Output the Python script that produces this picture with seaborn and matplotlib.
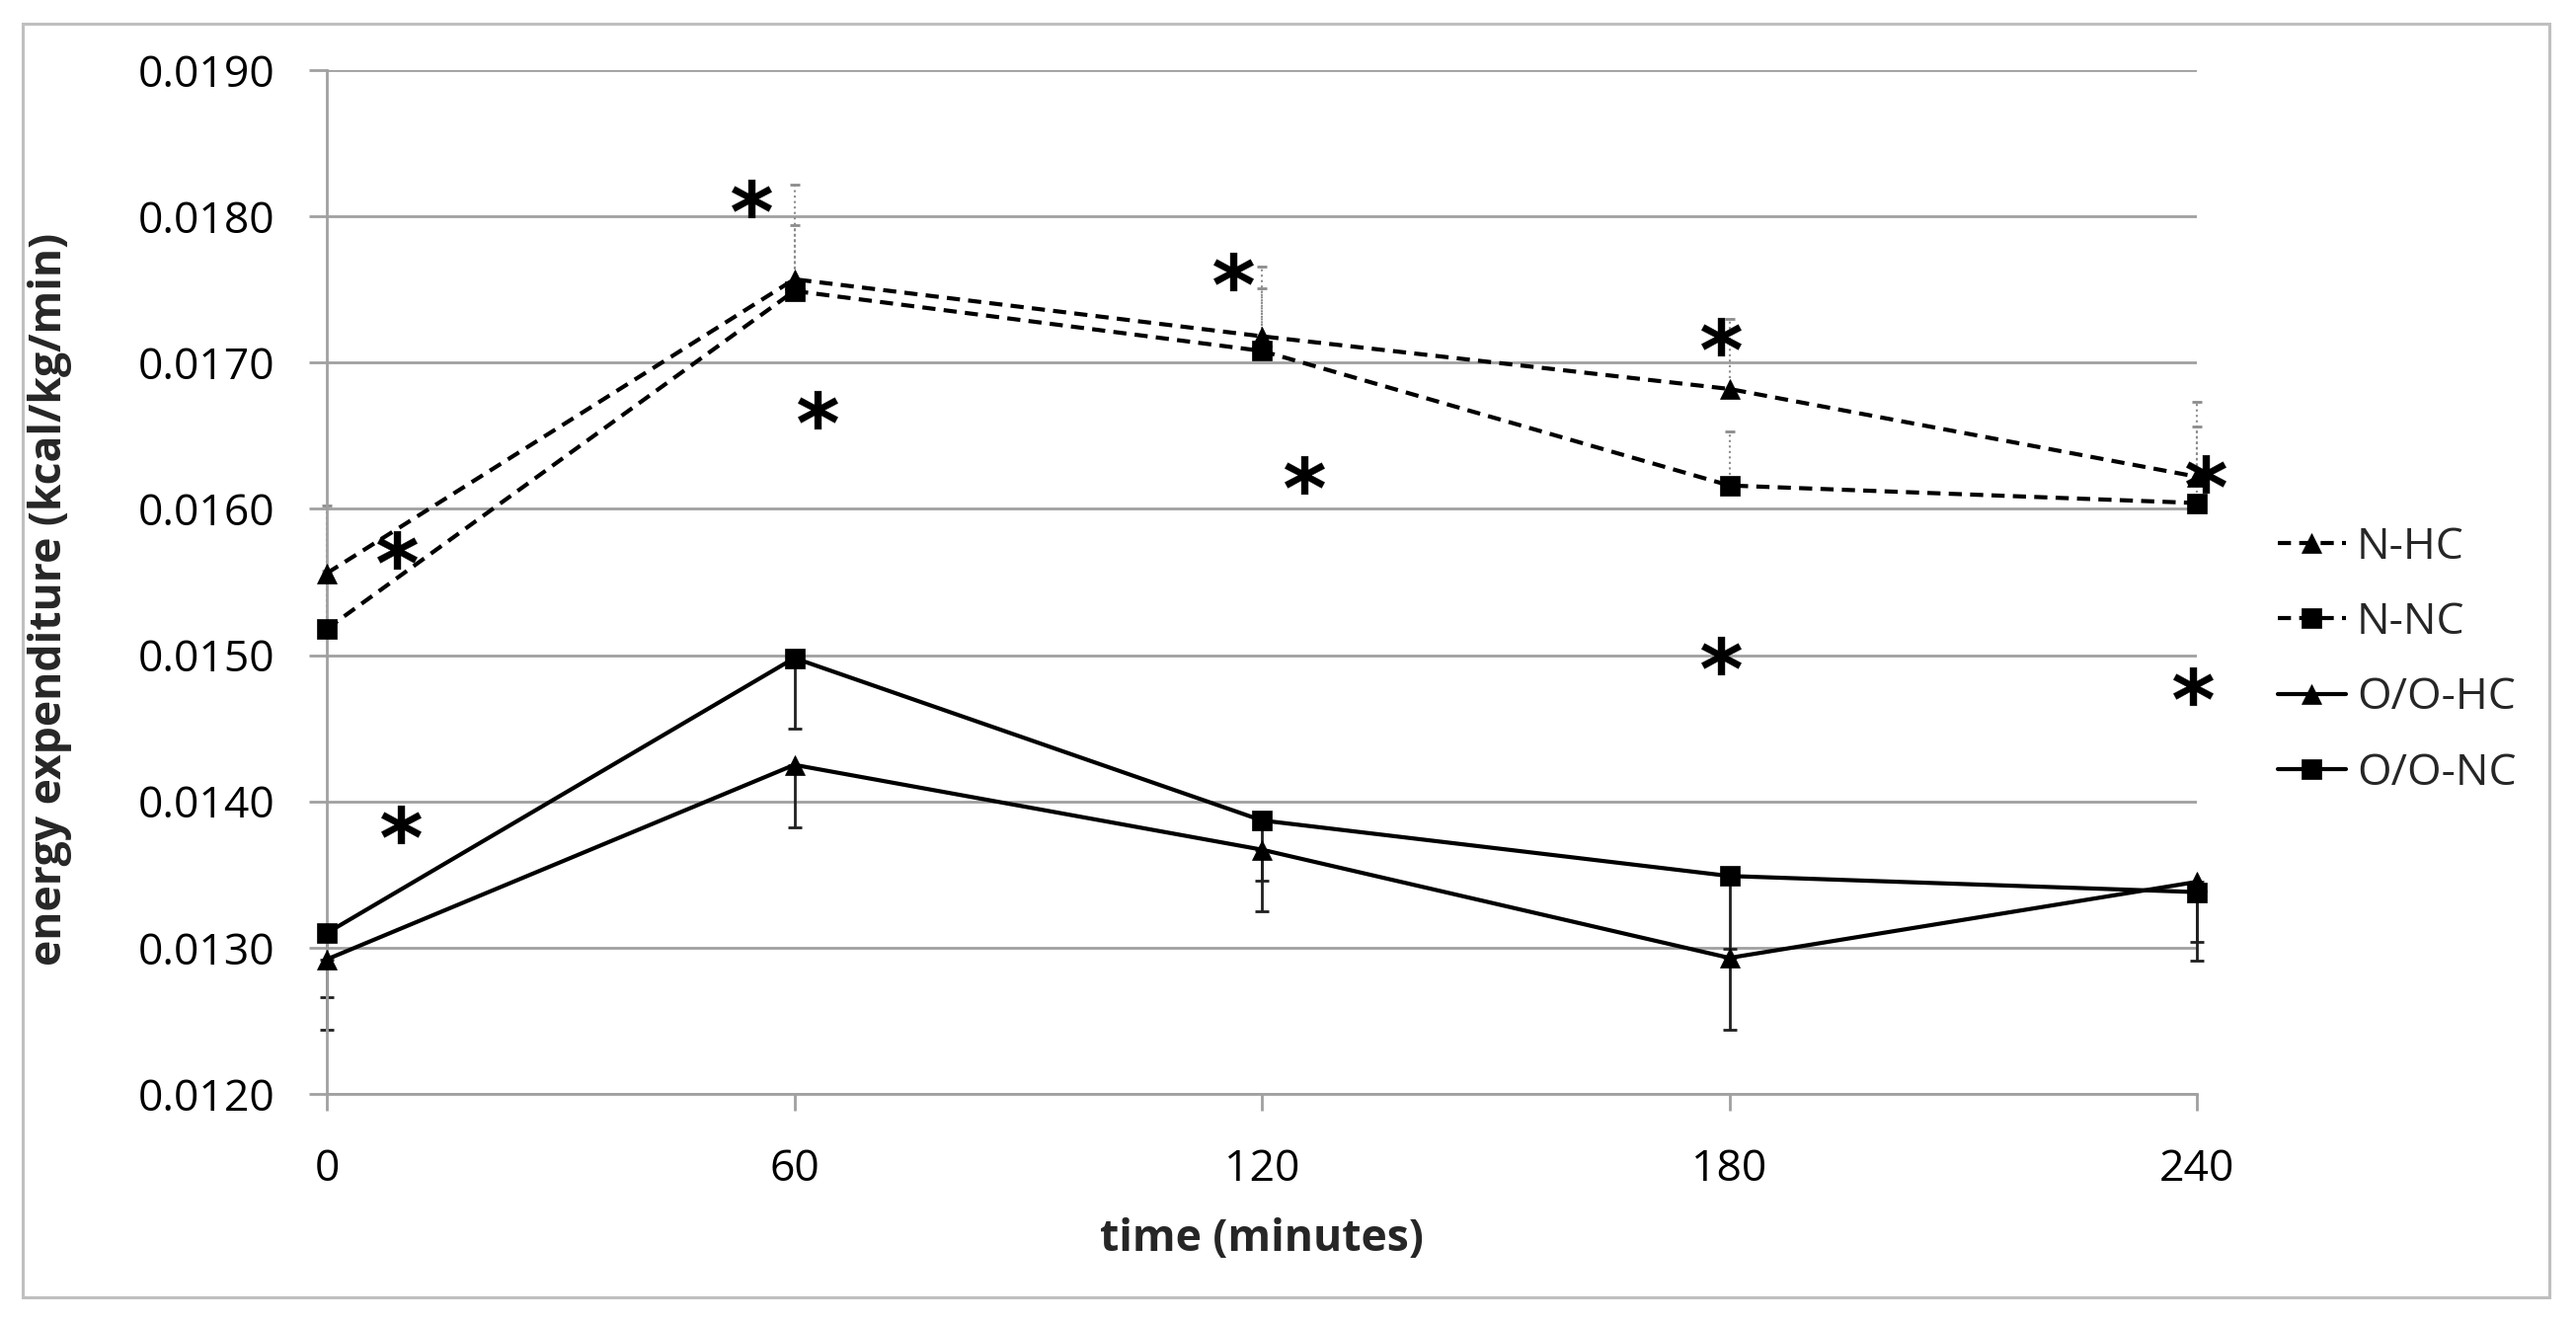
import matplotlib
matplotlib.use("Agg")
import matplotlib.pyplot as plt
import matplotlib.ticker as mticker
from matplotlib.patches import Rectangle
import seaborn as sns
import pandas as pd

# ---- data ----
time_min = [0, 60, 120, 180, 240]
n_hc = [0.01556, 0.01757, 0.01718, 0.01682, 0.01622]
n_nc = [0.01518, 0.01749, 0.01708, 0.01616, 0.01604]
oo_hc = [0.01292, 0.01425, 0.01367, 0.01293, 0.01345]
oo_nc = [0.01310, 0.01498, 0.01387, 0.01349, 0.01338]

n_hc_err = [0.00046, 0.00065, 0.00048, 0.00048, 0.00051]
n_nc_err = [0.00040, 0.00045, 0.00043, 0.00037, 0.00052]
oo_hc_err = [0.00048, 0.00043, 0.00042, 0.00049, 0.00041]
oo_nc_err = [0.00044, 0.00048, 0.00041, 0.00050, 0.00047]

series_names = ["N-HC", "N-NC", "O/O-HC", "O/O-NC"]

ast_x = [9, 9.5, 54.5, 63, 116.3, 125.4, 178.9, 178.9, 241.2, 239.5]
ast_y = [0.01572, 0.01384, 0.01812, 0.01668, 0.01762, 0.01623, 0.01718, 0.01500, 0.01624, 0.01479]

x_ticks = [0, 60, 120, 180, 240]
y_ticks = [0.0120, 0.0130, 0.0140, 0.0150, 0.0160, 0.0170, 0.0180, 0.0190]

# ---- style ----
sns.set_style("white")
plt.rcParams["font.family"] = ["Open Sans", "DejaVu Sans"]

W, H = 2609, 1338
fig = plt.figure(figsize=(W / 100, H / 100), dpi=100)
ax = fig.add_axes([331 / W, 1 - 1108 / H, (2225 - 331) / W, (1108 - 71) / H])

grid_col = "#A0A0A0"

series = [
    (n_hc, n_hc_err, "^", (0, (3.2, 2.0)), True),
    (n_nc, n_nc_err, "s", (0, (3.2, 2.0)), True),
    (oo_hc, oo_hc_err, "^", "-", False),
    (oo_nc, oo_nc_err, "s", "-", False),
]

for name, (vals, err, mk, ls, upper) in zip(series_names, series):
    if upper:
        yerr = [[0] * len(err), err]
        ec, elw, cs, els = "#8C8C8C", 1.5, 3.6, ":"
    else:
        yerr = [err, [0] * len(err)]
        ec, elw, cs, els = "#202020", 2.0, 5.0, "-"
    eb = ax.errorbar(time_min, vals, yerr=yerr, fmt="none", ecolor=ec,
                     elinewidth=elw, capsize=cs, capthick=2.0, zorder=2)
    for c in eb[2]:
        c.set_linestyle(els)
        c.set_clip_on(False)
    for c in eb[1]:
        c.set_clip_on(False)
        c.set_color("#707070")

for name, (vals, err, mk, ls, upper) in zip(series_names, series):
    df = pd.DataFrame({"t": time_min, "v": vals})
    sns.lineplot(data=df, x="t", y="v", ax=ax, color="black", marker=mk,
                 markersize=14, markeredgecolor="black", markerfacecolor="black",
                 markeredgewidth=0.5, linewidth=3.0, linestyle=ls, label=name,
                 legend=False, zorder=3)

for ln in ax.lines:
    ln.set_clip_on(False)

sns.scatterplot(x=ast_x, y=ast_y, ax=ax, marker="$\\mathbf{*}$", s=29 ** 2,
                color="black", edgecolor="black", linewidth=0.3, zorder=4,
                legend=False)
for col in ax.collections:
    col.set_clip_on(False)

ax.set_xlim(0, 240)
ax.set_ylim(0.0120, 0.0190)
ax.set_xticks(x_ticks)
ax.set_xticklabels([str(t) for t in x_ticks])
ax.set_yticks(y_ticks)
ax.yaxis.set_major_formatter(mticker.FormatStrFormatter("%.4f"))

ax.grid(axis="y", color=grid_col, linewidth=2.0)
ax.grid(axis="x", visible=False)
ax.set_axisbelow(True)
for s in ["top", "right"]:
    ax.spines[s].set_visible(False)
for s in ["left", "bottom"]:
    ax.spines[s].set_color(grid_col)
    ax.spines[s].set_linewidth(2.0)

ax.tick_params(axis="y", which="major", left=True, length=13, width=2.0,
               color=grid_col, pad=25, labelsize=32, labelcolor="black")
ax.tick_params(axis="x", which="major", bottom=True, length=12, width=2.0,
               color=grid_col, pad=27, labelsize=32, labelcolor="black")

ax.set_xlabel("time (minutes)", fontsize=32, fontweight="bold", va="center")
ax.xaxis.set_label_coords(0.5, -0.142)
ax.set_ylabel("energy expenditure (kcal/kg/min)", fontsize=32,
              fontweight="bold", va="center")
ax.yaxis.set_label_coords(-0.148, 0.483)

handles = [l for l in ax.lines if l.get_label() in series_names]
fig.legend(handles, [h.get_label() for h in handles], loc="center left",
           bbox_to_anchor=(2307 / W, 1 - 669 / H), frameon=False,
           fontsize=32, handlelength=1.55, handletextpad=0.25,
           labelspacing=0.72, borderpad=0, borderaxespad=0)

fig.patches.append(Rectangle((23 / W, 1 - 1314 / H), (2582 - 23) / W,
                             (1314 - 24) / H, transform=fig.transFigure,
                             fill=False, edgecolor="#BFBFBF", linewidth=2.2))

fig.savefig("out.png", dpi=100, facecolor="white")
